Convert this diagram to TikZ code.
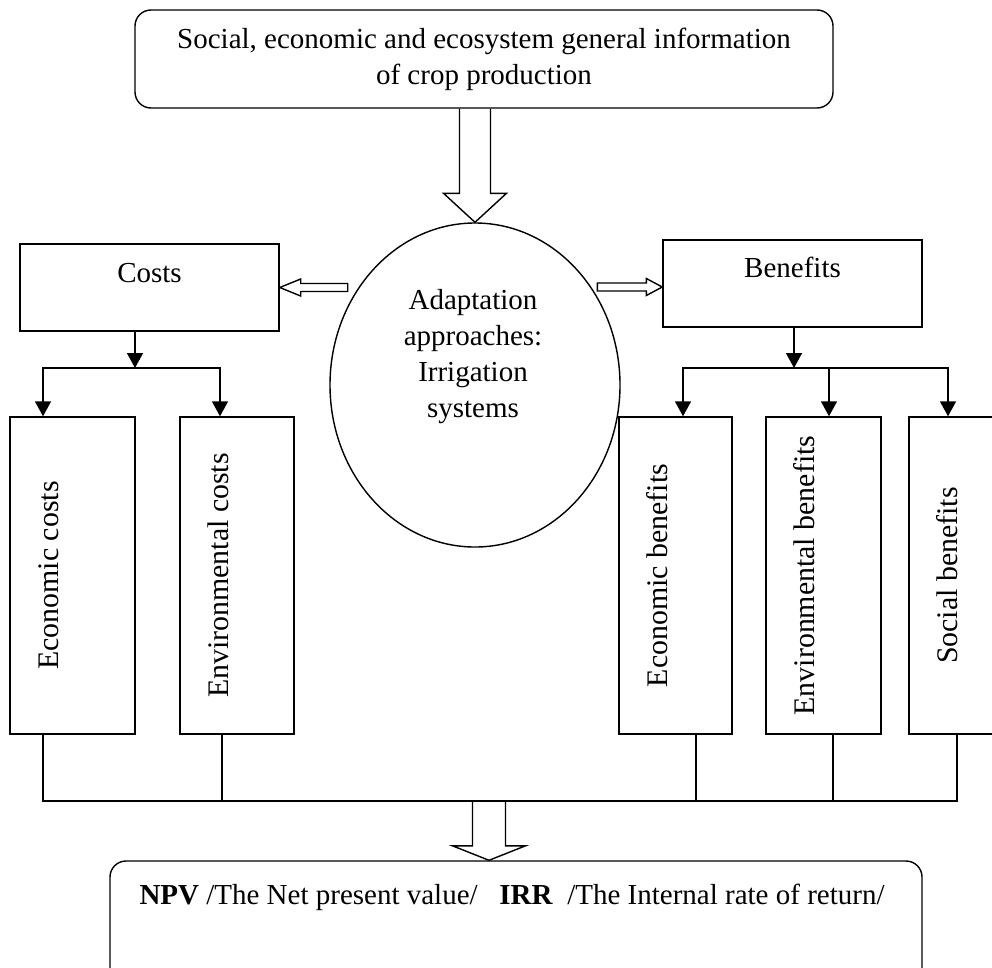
\documentclass[tikz,border=0pt]{standalone}
\usepackage{fontspec}
\setmainfont{Liberation Serif}
\usepackage{tikz}
\usetikzlibrary{calc,arrows.meta,shapes.geometric}

\begin{document}
\begin{tikzpicture}[
    every node/.style={font=\fontsize{16.5}{20.5}\selectfont},
    box/.style={draw, line width=0.8pt, inner sep=0pt},
    rbox/.style={box, rounded corners=0.32cm},
    vtext/.style={rotate=90, font=\fontsize{17}{20.5}\selectfont},
    fork/.style={line width=1.1pt, -{Triangle[length=8.5pt,width=9pt]}},
    link/.style={line width=0.8pt},
    hollow/.style={draw, line width=0.8pt, line join=miter}]
  \useasboundingbox (0,0) rectangle (19.84,-19.34);
  \node[rbox, minimum width=13.96cm, minimum height=1.96cm, align=center] (info) at (9.68,-1.18) {Social, economic and ecosystem general information\\of crop production};
  \node[box, ellipse, minimum width=5.8cm, minimum height=6.48cm] (adapt) at (9.5,-7.7) {};
  \node[align=center] (adapttext) at (9.46,-7.13) {Adaptation\\approaches:\\Irrigation\\systems};
  \node[box, minimum width=5.18cm, minimum height=1.74cm] (costs) at (2.99,-5.75) {};
  \node[anchor=base] (coststext) at ([yshift=-0.78cm]costs.north) {Costs};
  \node[box, minimum width=5.18cm, minimum height=1.74cm] (benefits) at (15.85,-5.67) {};
  \node[anchor=base] (benefitstext) at ([yshift=-0.76cm]benefits.north) {Benefits};
  \foreach \n/\x/\w/\txt in {ecocost/1.45/2.5/Economic costs, envcost/4.74/2.28/Environmental costs, ecoben/13.51/2.26/Economic benefits, envben/16.47/2.3/Environmental benefits, socben/19.34/2.32/Social benefits}
  {
    \node[box, minimum width=\w cm, minimum height=6.34cm] (\n) at (\x,-11.51) {};
    \node[vtext] (\n-t) at ([xshift=0.78cm]\n.west) {\txt};
  }
  \node[rbox, minimum width=16.24cm, minimum height=2.68cm] (result) at (10.32,-18.56) {};
  \node[anchor=base west] (resulttext) at ([xshift=0.48cm,yshift=-0.88cm]result.north west) {\textbf{NPV} /The Net present value/~~~\textbf{IRR}~~/The Internal rate of return/};

  \path (adapt.north) ++(-0.31,0.58) coordinate (dl) ++(0.62,0) coordinate (dr);
  \draw[hollow] (dl |- info.south) -- (dl) -- ++(-0.32,0) -- (adapt.north) -- ($(dr)+(0.32,0)$) -- (dr) -- (dr |- info.south);
  \draw[hollow] (costs.east) -- ++(0.42,0.17) -- ++(0,-0.09) -- ++(0.94,0) -- ++(0,-0.16) -- ++(-0.94,0) -- ++(0,-0.09) -- cycle;
  \draw[hollow] ([yshift=-0.07cm]benefits.west) -- ++(-0.32,0.17) -- ++(0,-0.09) -- ++(-0.98,0) -- ++(0,-0.16) -- ++(0.98,0) -- ++(0,-0.09) -- cycle;

  \coordinate (cfork) at (2.70,-7.36);
  \draw[fork] (cfork |- costs.south) -- (cfork);
  \draw[fork] (cfork) -| ([xshift=-0.59cm]ecocost.north);
  \draw[fork] (cfork) -| ([xshift=-0.34cm]envcost.north);
  \coordinate (bfork) at (15.88,-7.36);
  \draw[fork] (bfork |- benefits.south) -- (bfork);
  \foreach \n/\s in {ecoben/0.15, envben/0.11, socben/-0.38}
    \draw[fork] (bfork) -| ([xshift=\s cm]\n.north);

  \coordinate (merge) at (9.78,-16.02);
  \draw[link] ([xshift=-0.59cm]ecocost.south) |- (merge) -| ([xshift=-0.2cm]socben.south);
  \foreach \n/\s in {envcost/-0.30, ecoben/0.41, envben/0.19}
    \draw[link] ([xshift=\s cm]\n.south) -- ++(0,-1.34);
  \draw[hollow] (merge |- result.north) -- ++(-0.73,0.29) -- ++(0.40,0) -- ++(0,0.90) -- ++(0.66,0) -- ++(0,-0.90) -- ++(0.40,0) -- cycle;
\end{tikzpicture}
\end{document}
